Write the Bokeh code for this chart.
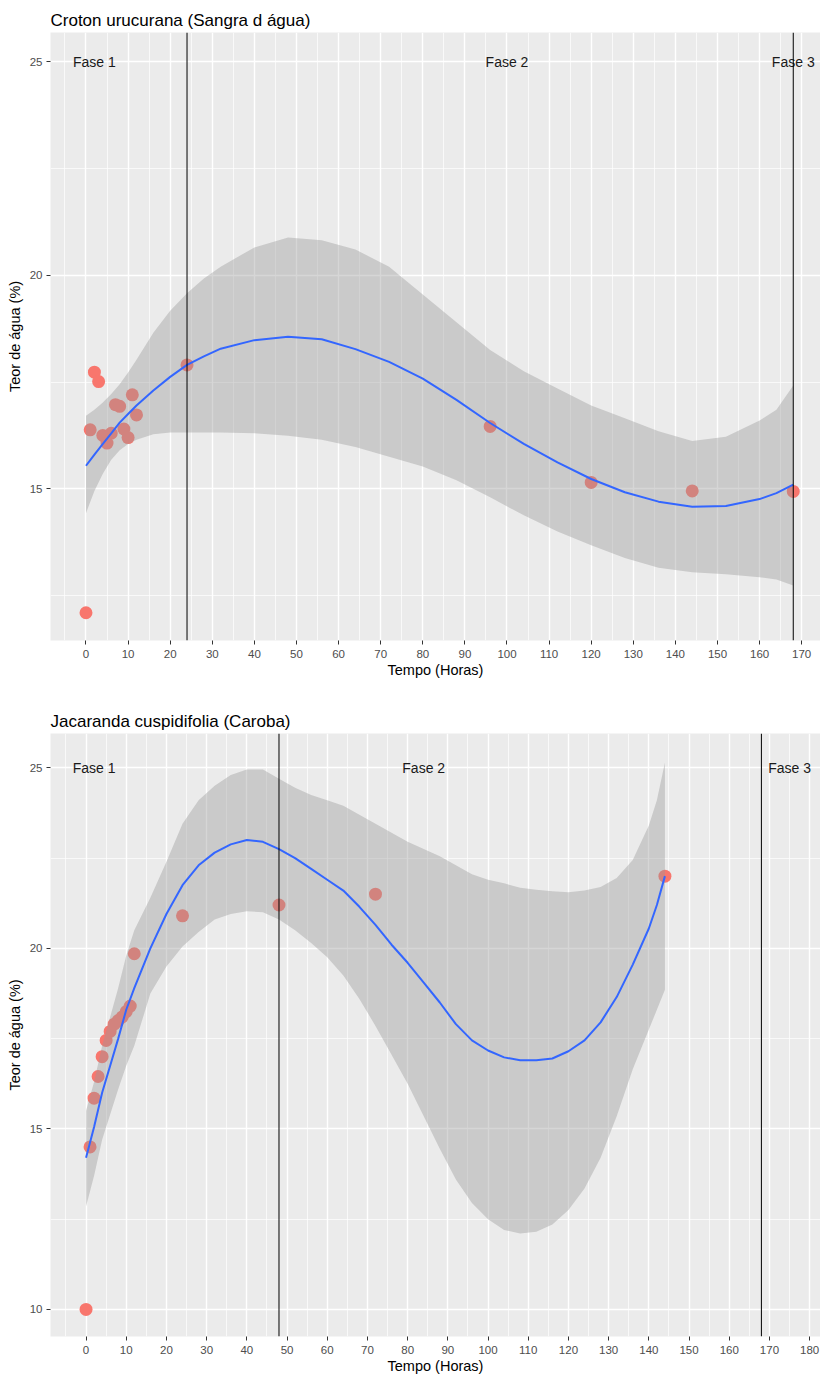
from bokeh.plotting import figure
from bokeh.layouts import column
from bokeh.models import Range1d, FixedTicker, Span
from bokeh.core.properties import value
from bokeh.embed import file_html
from bokeh.resources import INLINE

# ---------------- data: Croton urucurana ----------------
top_title = "Croton urucurana (Sangra d água)"
top_pts_x = [0, 1, 2, 3, 4, 5, 6, 7, 8, 9, 10, 11, 12, 24, 96, 120, 144, 168]
top_pts_y = [12.1, 16.38, 17.73, 17.51, 16.25, 16.07, 16.3, 16.97, 16.93, 16.4, 16.2, 17.2, 16.73, 17.9, 16.46, 15.15, 14.95, 14.94]
top_fit_x = [0, 2, 4, 6, 8, 10, 12, 16, 20, 24, 28, 32, 40, 48, 56, 64, 72, 80, 88, 96, 104, 112, 120, 128, 136, 144, 152, 160, 164, 168]
top_fit_y = [15.54, 15.8, 16.05, 16.3, 16.55, 16.75, 16.95, 17.3, 17.62, 17.9, 18.1, 18.28, 18.48, 18.56, 18.5, 18.27, 17.97, 17.58, 17.08, 16.54, 16.05, 15.62, 15.23, 14.92, 14.7, 14.58, 14.6, 14.76, 14.9, 15.1]
top_fit_hi = [16.71, 16.85, 17.02, 17.22, 17.45, 17.72, 18.02, 18.65, 19.17, 19.58, 19.92, 20.2, 20.65, 20.88, 20.82, 20.6, 20.2, 19.55, 18.9, 18.25, 17.75, 17.35, 16.95, 16.65, 16.35, 16.12, 16.22, 16.6, 16.85, 17.42]
top_fit_lo = [14.43, 14.95, 15.35, 15.68, 15.9, 16.05, 16.15, 16.28, 16.32, 16.32, 16.32, 16.32, 16.3, 16.24, 16.15, 15.98, 15.75, 15.52, 15.2, 14.8, 14.38, 14.0, 13.68, 13.38, 13.15, 13.05, 13.0, 12.93, 12.88, 12.74]
top_vlines = [24, 168]
top_phase_x = [2, 100, 168]
top_phase_y = [25, 25, 25]
top_xticks = [0, 10, 20, 30, 40, 50, 60, 70, 80, 90, 100, 110, 120, 130, 140, 150, 160, 170]
top_yticks = [15, 20, 25]

# ---------------- data: Jacaranda cuspidifolia ----------------
bot_title = "Jacaranda cuspidifolia (Caroba)"
bot_pts_x = [0, 1, 2, 3, 4, 5, 6, 7, 8, 9, 10, 11, 12, 24, 48, 72, 144]
bot_pts_y = [10.0, 14.5, 15.85, 16.45, 17.0, 17.45, 17.7, 17.9, 18.0, 18.1, 18.25, 18.4, 19.85, 20.9, 21.2, 21.5, 22.0]
bot_fit_x = [0, 2, 4, 6, 8, 10, 12, 16, 20, 24, 28, 32, 36, 40, 44, 48, 52, 56, 60, 64, 68, 72, 76, 80, 84, 88, 92, 96, 100, 104, 108, 112, 116, 120, 124, 128, 132, 136, 140, 142, 144]
bot_fit_y = [14.2, 15.05, 16.0, 16.75, 17.5, 18.3, 18.9, 20.0, 20.95, 21.75, 22.3, 22.65, 22.88, 23.0, 22.95, 22.75, 22.5, 22.2, 21.9, 21.6, 21.15, 20.65, 20.1, 19.6, 19.05, 18.5, 17.9, 17.45, 17.17, 16.98, 16.9, 16.9, 16.95, 17.15, 17.45, 17.95, 18.65, 19.55, 20.55, 21.2, 22.0]
bot_fit_hi = [15.5, 16.3, 17.3, 18.1, 18.9, 19.8, 20.5, 21.4, 22.4, 23.45, 24.1, 24.5, 24.8, 24.95, 24.95, 24.7, 24.45, 24.25, 24.1, 23.95, 23.7, 23.45, 23.2, 22.95, 22.75, 22.55, 22.3, 22.05, 21.9, 21.8, 21.68, 21.62, 21.58, 21.55, 21.6, 21.7, 21.95, 22.45, 23.4, 24.1, 25.15]
bot_fit_lo = [12.85, 13.7, 14.7, 15.4, 16.1, 16.75, 17.3, 18.75, 19.5, 20.05, 20.45, 20.8, 20.95, 21.03, 21.0, 20.8, 20.5, 20.15, 19.75, 19.25, 18.6, 17.85, 17.05, 16.25, 15.35, 14.45, 13.6, 12.95, 12.5, 12.2, 12.1, 12.15, 12.35, 12.75, 13.35, 14.2, 15.35, 16.65, 17.75, 18.3, 18.85]
bot_vlines = [48, 168]
bot_phase_x = [2, 84, 175]
bot_phase_y = [25, 25, 25]
bot_xticks = [0, 10, 20, 30, 40, 50, 60, 70, 80, 90, 100, 110, 120, 130, 140, 150, 160, 170, 180]
bot_yticks = [10, 15, 20, 25]

phase_labels = ["Fase 1", "Fase 2", "Fase 3"]
x_label = "Tempo (Horas)"
y_label = "Teor de água (%)"

FONT = "Liberation Sans"


def minor_of(ticks, step):
    m = [t - step / 2.0 for t in ticks]
    m.append(ticks[-1] + step / 2.0)
    return m


def panel(title, px, py, fx, fy, flo, fhi, vlines, phx, phy, xticks, yticks,
          xr, yr, height, btop, bbottom):
    p = figure(width=820, height=height, output_backend="svg",
               toolbar_location=None, x_range=Range1d(*xr), y_range=Range1d(*yr),
               min_border_left=50, min_border_right=0,
               min_border_top=btop, min_border_bottom=bbottom)
    p.background_fill_color = "#EBEBEB"
    p.border_fill_color = "white"
    p.outline_line_color = None

    p.title.text = title
    p.title.text_font = FONT
    p.title.text_font_size = "17px"
    p.title.text_font_style = "normal"
    p.title.text_color = "black"
    p.title.standoff = 6
    p.title.offset = 0

    p.xaxis.ticker = FixedTicker(ticks=xticks, minor_ticks=minor_of(xticks, 10))
    p.yaxis.ticker = FixedTicker(ticks=yticks, minor_ticks=minor_of(yticks, 5))
    for ax in (p.xaxis, p.yaxis):
        ax.axis_line_color = None
        ax.major_tick_line_color = "#333333"
        ax.major_tick_out = 4
        ax.major_tick_in = 0
        ax.minor_tick_line_color = None
        ax.major_label_text_font = FONT
        ax.major_label_text_font_size = "11.5px"
        ax.major_label_text_color = "#4D4D4D"
        ax.axis_label_text_font = FONT
        ax.axis_label_text_font_size = "14.5px"
        ax.axis_label_text_font_style = "normal"
        ax.axis_label_text_color = "black"
    p.xaxis.axis_label = x_label
    p.yaxis.axis_label = y_label
    p.xaxis.major_label_standoff = 5
    p.xaxis.axis_label_standoff = 1
    p.yaxis.major_label_standoff = 4
    p.yaxis.axis_label_standoff = 4

    for g in (p.xgrid, p.ygrid):
        g.grid_line_color = "white"
        g.grid_line_width = 1.4
        g.minor_grid_line_color = "white"
        g.minor_grid_line_width = 0.7

    p.scatter(px, py, size=13, color="#F8766D", line_color=None)
    p.varea(x=fx, y1=flo, y2=fhi, fill_color="#999999", fill_alpha=0.4)
    p.line(fx, fy, line_color="#3366FF", line_width=2)
    p.text(x=phx, y=phy, text=phase_labels, text_font=value(FONT),
           text_font_size=value("14px"), text_align="center",
           text_baseline="middle", text_color="#1A1A1A")
    for v in vlines:
        p.add_layout(Span(location=v, dimension="height", line_color="black",
                          line_width=1))
    return p


p1 = panel(top_title, top_pts_x, top_pts_y, top_fit_x, top_fit_y, top_fit_lo,
           top_fit_hi, top_vlines, top_phase_x, top_phase_y, top_xticks,
           top_yticks, (-8.43, 174.47), (11.45, 25.68), 688, 32, 48)
p2 = panel(bot_title, bot_pts_x, bot_pts_y, bot_fit_x, bot_fit_y, bot_fit_lo,
           bot_fit_hi, bot_vlines, bot_phase_x, bot_phase_y, bot_xticks,
           bot_yticks, (-8.84, 182.7), (9.25, 25.95), 688, 45, 36)

layout = column(p1, p2, spacing=0)
open("out.html", "w").write(file_html(layout, INLINE))
